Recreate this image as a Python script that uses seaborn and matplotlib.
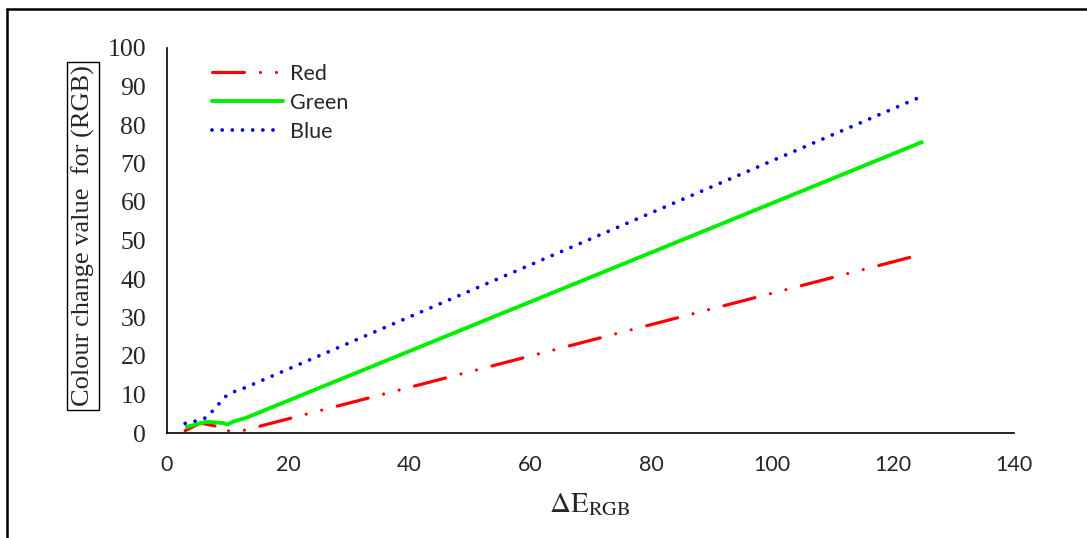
import matplotlib
matplotlib.use("Agg")
import matplotlib.pyplot as plt
import seaborn as sns
import pandas as pd
from matplotlib.lines import Line2D

# ---- data ----
red_x = [3, 5.5, 8, 9, 10, 11, 12.5, 125]
red_y = [0.6, 2.6, 1.8, 0.3, 0.6, 0.4, 0.6, 46.5]
green_x = [3, 6.5, 9.3, 10, 11, 13, 125]
green_y = [1.5, 2.9, 2.6, 2.2, 3.0, 3.9, 75.7]
blue_x = [3, 5, 6.5, 8, 9.5, 10.5, 11.5, 12.5, 125]
blue_y = [2.5, 3.2, 4.0, 6.5, 9.3, 10.3, 11.0, 11.5, 87.6]
x_ticks = [0, 20, 40, 60, 80, 100, 120, 140]
y_ticks = [0, 10, 20, 30, 40, 50, 60, 70, 80, 90, 100]

df = pd.concat([
    pd.DataFrame({"x": red_x, "y": red_y, "s": "Red"}),
    pd.DataFrame({"x": green_x, "y": green_y, "s": "Green"}),
    pd.DataFrame({"x": blue_x, "y": blue_y, "s": "Blue"}),
])

sns.set_style("white")
plt.rcParams["font.family"] = ["Lato", "DejaVu Sans"]
plt.rcParams["mathtext.fontset"] = "stix"

W, H = 1087, 538
fig = plt.figure(figsize=(W / 100, H / 100), dpi=100)
ax = fig.add_axes([167 / W, 1 - 433 / H, 847 / W, 385 / H])

styles = {
    "Red": dict(color="#ff0000", lw=2.3, linestyle=(0, (10, 5, 0.01, 5, 0.01, 5))),
    "Green": dict(color="#00ee00", lw=2.8, linestyle="-"),
    "Blue": dict(color="#0000ee", lw=2.7, linestyle=(0, (0.01, 2.7))),
}
for name in ["Red", "Green", "Blue"]:
    sub = df[df["s"] == name]
    st = styles[name]
    sns.lineplot(x=sub["x"].to_numpy(), y=sub["y"].to_numpy(), ax=ax, sort=False,
                 estimator=None, color=st["color"], linewidth=st["lw"],
                 linestyle=st["linestyle"], legend=False)
for ln in ax.get_lines():
    ln.set_dash_capstyle("round")
    ln.set_solid_capstyle("butt")

ax.set_xlim(0, 140)
ax.set_ylim(0, 100)
ax.set_xticks(x_ticks)
ax.set_yticks(y_ticks)
ax.set_xticklabels([str(v) for v in x_ticks], fontsize=15.5, fontfamily="Lato")
ax.set_yticklabels([str(v) for v in y_ticks], fontsize=18.5, fontfamily="Liberation Serif")
ax.tick_params(axis="both", length=0)
ax.tick_params(axis="x", pad=16)
ax.tick_params(axis="y", pad=15)
for side in ["top", "right"]:
    ax.spines[side].set_visible(False)
for side in ["left", "bottom"]:
    ax.spines[side].set_color("black")
    ax.spines[side].set_linewidth(1.2)
ax.grid(False)

handles = [Line2D([], [], color=styles[n]["color"], lw=styles[n]["lw"],
                  linestyle=styles[n]["linestyle"], dash_capstyle="round")
           for n in ["Red", "Green", "Blue"]]
leg = ax.legend(handles, ["Red", "Green", "Blue"], loc="upper left",
                bbox_to_anchor=(0.03, 1.01), frameon=False, fontsize=15.5,
                handlelength=3.3, handletextpad=0.35, labelspacing=0.42)

fig.text(590 / W, 1 - 505 / H, r"$\mathrm{\Delta E_{RGB}}$", ha="center", va="center",
         fontsize=21)
fig.text(83 / W, 1 - 236 / H, "Colour change value  for (RGB)", rotation=90,
         ha="center", va="center", fontsize=19, fontfamily="Liberation Serif",
         bbox=dict(boxstyle="square,pad=0.15", fc="white", ec="black", lw=1.0))

# figure frame (top and left visible)
fig.add_artist(Line2D([7 / W, 7 / W], [0, 1 - 9 / H], color="black", lw=1.8,
                      transform=fig.transFigure))
fig.add_artist(Line2D([7 / W, 1], [1 - 9 / H, 1 - 9 / H], color="black", lw=1.8,
                      transform=fig.transFigure))

fig.savefig("out.png", dpi=100)
